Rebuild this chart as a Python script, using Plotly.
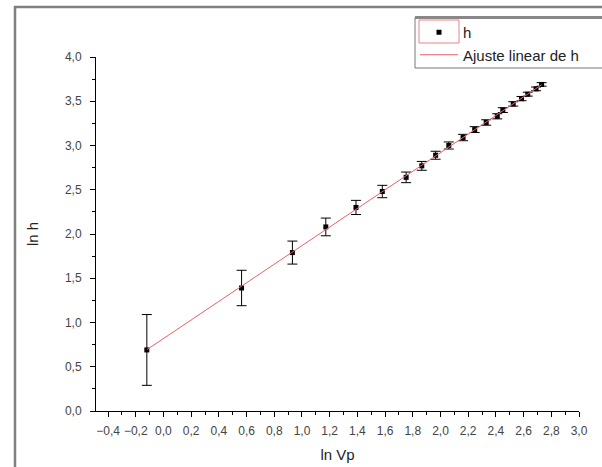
import numpy as np
import plotly.graph_objects as go

# ln Vp (x), ln h (y) and the uncertainty of ln h
ln_vp = [-0.12, 0.564, 0.931, 1.172, 1.39, 1.58, 1.752, 1.865, 1.965, 2.06,
         2.163, 2.247, 2.33, 2.41, 2.45, 2.525, 2.585, 2.63, 2.69, 2.73]
ln_h = [0.69, 1.39, 1.79, 2.08, 2.30, 2.48, 2.64, 2.77, 2.89, 3.00,
        3.09, 3.18, 3.26, 3.33, 3.40, 3.47, 3.53, 3.58, 3.64, 3.69]
err_ln_h = [0.40, 0.20, 0.13, 0.10, 0.08, 0.07, 0.06, 0.05, 0.045, 0.04,
            0.036, 0.033, 0.031, 0.029, 0.027, 0.025, 0.024, 0.022, 0.021, 0.02]

x_ticks = [-0.4, -0.2, 0.0, 0.2, 0.4, 0.6, 0.8, 1.0, 1.2, 1.4, 1.6, 1.8,
           2.0, 2.2, 2.4, 2.6, 2.8, 3.0]
y_ticks = [0.0, 0.5, 1.0, 1.5, 2.0, 2.5, 3.0, 3.5, 4.0]

# least-squares line through the data
slope, intercept = np.polyfit(ln_vp, ln_h, 1)
fit_x = np.array([min(ln_vp), max(ln_vp)])
fit_y = slope * fit_x + intercept

FONT = "Liberation Sans, Arial, sans-serif"

fig = go.Figure()
fig.add_trace(go.Scatter(
    x=ln_vp, y=ln_h, mode="markers", name="h",
    marker=dict(symbol="square", size=5, color="black"),
    error_y=dict(type="data", array=err_ln_h, visible=True,
                 color="black", thickness=1, width=5),
))
fig.add_trace(go.Scatter(
    x=fit_x, y=fit_y, mode="lines", name="Ajuste linear de h",
    line=dict(color="#e8606a", width=1),
))

# plot area spans 96..579 px horizontally and 57..411 px vertically
L, R, T, B = 96, 23, 57, 56
W, H = 602, 467
pw, ph = W - L - R, H - T - B


def px(xp):
    return (xp - L) / pw


def py(yp):
    return (H - B - yp) / ph


fig.update_layout(
    width=W, height=H,
    margin=dict(l=L, r=R, t=T, b=B),
    paper_bgcolor="white", plot_bgcolor="white",
    separators=",.",
    font=dict(family=FONT, color="#333333"),
    showlegend=True,
    legend=dict(
        x=px(415), y=py(16), xanchor="left", yanchor="top",
        borderwidth=0, bgcolor="rgba(0,0,0,0)",
        font=dict(family=FONT, size=15, color="#222222"),
        tracegroupgap=0, itemwidth=38,
    ),
    xaxis=dict(
        range=[-0.487, 3.0], tickvals=x_ticks, tickformat=".1f",
        automargin=False,
        showgrid=False, zeroline=False,
        showline=True, linecolor="black", linewidth=1,
        ticks="outside", ticklen=5, tickcolor="black", ticklabelstandoff=4,
        minor=dict(dtick=0.1, tick0=0, ticks="outside", ticklen=3, tickcolor="black"),
        tickfont=dict(size=12, color="#444444"),
        title=dict(text="ln Vp", font=dict(size=15, color="#222222"), standoff=12),
    ),
    yaxis=dict(
        range=[0, 4.0], tickvals=y_ticks, tickformat=".1f",
        automargin=False,
        showgrid=False, zeroline=False,
        showline=True, linecolor="black", linewidth=1,
        ticks="outside", ticklen=5, tickcolor="black", ticklabelstandoff=6,
        minor=dict(dtick=0.25, tick0=0, ticks="outside", ticklen=3, tickcolor="black"),
        tickfont=dict(size=12, color="#444444"),
        title=dict(text="ln h", font=dict(size=15, color="#222222"), standoff=22),
    ),
    shapes=[
        # page frame
        dict(type="rect", xref="paper", yref="paper",
             x0=px(15), x1=px(606), y0=py(472), y1=py(7),
             line=dict(color="#808080", width=2.5), layer="below"),
        # legend box, running off the right edge of the page
        dict(type="rect", xref="paper", yref="paper",
             x0=px(415), x1=px(608), y0=py(68), y1=py(17.5),
             line=dict(color="#777777", width=1), layer="above"),
        # heavier top edge of the legend box
        dict(type="line", xref="paper", yref="paper",
             x0=px(415), x1=px(608), y0=py(17.5), y1=py(17.5),
             line=dict(color="#888888", width=3), layer="above"),
        # highlight box round the marker sample in the legend
        dict(type="rect", xref="paper", yref="paper",
             x0=px(419), x1=px(459), y0=py(43), y1=py(20),
             line=dict(color="#f08080", width=1), layer="above"),
    ],
)

fig.write_html("out.html")
